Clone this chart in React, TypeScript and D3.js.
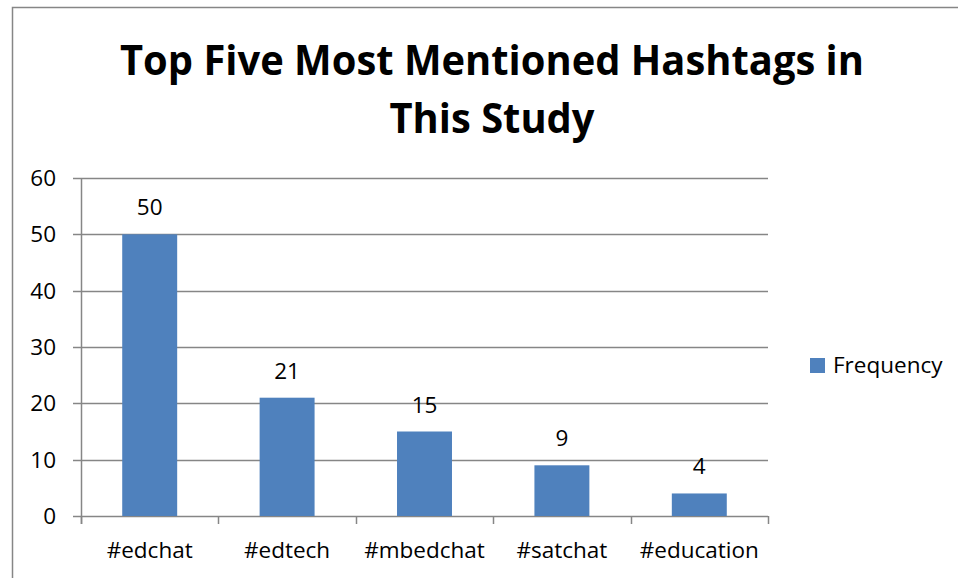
import React from "react";
import * as d3 from "d3";

const categories = ["#edchat", "#edtech", "#mbedchat", "#satchat", "#education"];
const frequency = [50, 21, 15, 9, 4];
const yTicks = [0, 10, 20, 30, 40, 50, 60];
const titleLines = ["Top Five Most Mentioned Hashtags in", "This Study"];
const seriesName = "Frequency";

const W = 958, H = 578;
const plot = { left: 81, right: 768, top: 178, bottom: 516 };
const font = "'Open Sans', 'Noto Sans', sans-serif";
const barColor = "#4F81BD";
const gridColor = "#868686";
const fs = 22.5;

export default function App() {
  const x = d3.scaleBand<string>().domain(categories).range([plot.left, plot.right]).paddingInner(0.6).paddingOuter(0.3);
  const y = d3.scaleLinear().domain([0, 60]).range([plot.bottom, plot.top]);
  const step = x.step();
  const bounds = d3.range(categories.length + 1).map((i) => plot.left + i * step);
  return (
    <svg width={W} height={H} style={{ position: "absolute", left: 0, top: 0, background: "#fff" }}>
      <rect x={0} y={0} width={W} height={H} fill="#fff" />
      <path d={`M12.5,${H} V7.5 H${W}`} fill="none" stroke={gridColor} strokeWidth={1.5} />
      <text x={492} y={75} textAnchor="middle" fontFamily={font} fontWeight="bold" fontSize={42} fill="#000" textLength={744} lengthAdjust="spacingAndGlyphs">{titleLines[0]}</text>
      <text x={492} y={133} textAnchor="middle" fontFamily={font} fontWeight="bold" fontSize={42} fill="#000" textLength={205} lengthAdjust="spacingAndGlyphs">{titleLines[1]}</text>
      {yTicks.map((t) => (
        <g key={t}>
          <line x1={plot.left - 8} x2={plot.right} y1={Math.round(y(t)) + 0.5} y2={Math.round(y(t)) + 0.5} stroke={gridColor} strokeWidth={1.5} />
          <text x={56} y={y(t) + 8} textAnchor="end" fontFamily={font} fontSize={fs} fill="#000">{t}</text>
        </g>
      ))}
      <line x1={plot.left + 0.5} x2={plot.left + 0.5} y1={plot.top} y2={plot.bottom + 8} stroke={gridColor} strokeWidth={1.5} />
      {bounds.map((b, i) => (
        <line key={i} x1={Math.round(b) + 0.5} x2={Math.round(b) + 0.5} y1={plot.bottom} y2={plot.bottom + 8} stroke={gridColor} strokeWidth={1.5} />
      ))}
      {categories.map((c, i) => (
        <g key={c}>
          <rect x={x(c)} y={y(frequency[i])} width={x.bandwidth()} height={y(0) - y(frequency[i])} fill={barColor} />
          <text x={(x(c) as number) + x.bandwidth() / 2} y={y(frequency[i]) - 19} textAnchor="middle" fontFamily={font} fontSize={fs} fill="#000">{frequency[i]}</text>
          <text x={(x(c) as number) + x.bandwidth() / 2} y={558} textAnchor="middle" fontFamily={font} fontSize={fs} fill="#000">{c}</text>
        </g>
      ))}
      <rect x={810} y={358} width={15} height={15} fill={barColor} />
      <text x={833} y={373} fontFamily={font} fontSize={fs} fill="#000">{seriesName}</text>
    </svg>
  );
}
